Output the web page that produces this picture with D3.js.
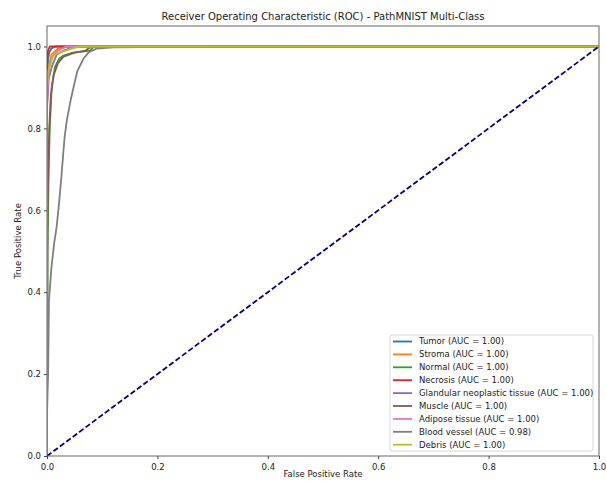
<!DOCTYPE html>
<html><head><meta charset="utf-8">
<script src="https://cdn.jsdelivr.net/npm/d3@7"></script>
<style>body{margin:0;background:#fff;} text{font-family:"DejaVu Sans",sans-serif;fill:#222;}</style>
</head><body>
<svg id="c" width="606" height="481"></svg>
<script>
const classNames = ["Tumor","Stroma","Normal","Necrosis","Glandular neoplastic tissue","Muscle","Adipose tissue","Blood vessel","Debris"];
const aucValues = [1.00,1.00,1.00,1.00,1.00,1.00,1.00,0.98,1.00];
const colors = ["#1f77b4","#ff7f0e","#2ca02c","#d62728","#9467bd","#8c564b","#e377c2","#7f7f7f","#bcbd22"];
const fprTumor = [0,0,0.002,0.004,0.008,0.015,1];
const tprTumor = [0,0.9,0.97,0.985,0.995,1,1];
const fprStroma = [0,0,0.003,0.008,0.02,0.04,1];
const tprStroma = [0,0.85,0.95,0.98,0.995,1,1];
const fprNormal = [0,0.001,0.003,0.005,0.0085,0.0145,0.022,0.03,0.047,0.06,0.078,0.085,1];
const tprNormal = [0,0.5,0.7,0.8,0.9,0.95,0.97,0.978,0.985,0.987,0.99,1,1];
const fprNecrosis = [0,0,0.002,0.005,1];
const tprNecrosis = [0,0.97,0.99,1,1];
const fprGlandular = [0,0,0.003,0.0085,0.0175,0.03,0.05,1];
const tprGlandular = [0,0.85,0.92,0.95,0.98,0.99,1,1];
const fprMuscle = [0,0.001,0.004,0.007,0.012,0.02,0.03,0.05,0.07,0.08,1];
const tprMuscle = [0,0.6,0.8,0.88,0.93,0.96,0.975,0.985,0.99,1,1];
const fprAdipose = [0,0,0.004,0.01,0.02,0.035,1];
const tprAdipose = [0,0.88,0.95,0.975,0.99,1,1];
const fprBlood = [0,0,0.001,0.002,0.0036,0.008,0.013,0.0175,0.022,0.026,0.0295,0.032,0.036,0.043,0.048,0.055,0.066,0.075,0.082,0.09,0.12,0.29,1];
const tprBlood = [0,0.1,0.16,0.2,0.38,0.46,0.52,0.56,0.62,0.68,0.74,0.78,0.82,0.87,0.9,0.94,0.97,0.985,0.99,0.995,0.998,1,1];
const fprDebris = [0,0,0.002,0.011,0.02,0.029,0.045,0.06,1];
const tprDebris = [0,0.9,0.94,0.976,0.984,0.988,0.995,1,1];
const curves = [[fprTumor,tprTumor],[fprStroma,tprStroma],[fprNormal,tprNormal],[fprNecrosis,tprNecrosis],[fprGlandular,tprGlandular],[fprMuscle,tprMuscle],[fprAdipose,tprAdipose],[fprBlood,tprBlood],[fprDebris,tprDebris]];
const ticks = [0,0.2,0.4,0.6,0.8,1.0];

const svg = d3.select("#c");
const L=47,R=599,T=26,B=456;
const x = d3.scaleLinear().domain([0,1]).range([L,R]);
const y = d3.scaleLinear().domain([0,1.05]).range([B,T]);

svg.append("defs").append("clipPath").attr("id","clip").append("rect").attr("x",L).attr("y",T).attr("width",R-L).attr("height",B-T);
const g = svg.append("g").attr("clip-path","url(#clip)");
const line = d3.line().x(d=>x(d[0])).y(d=>y(d[1]));
curves.forEach((c,i)=>{
  const pts = c[0].map((f,j)=>[f,c[1][j]]);
  g.append("path").attr("d",line(pts)).attr("fill","none").attr("stroke",colors[i]).attr("stroke-width",1.8).attr("stroke-linejoin","round");
});
g.append("path").attr("d",line([[0,0],[1,1]])).attr("fill","none").attr("stroke","navy").attr("stroke-width",1.8).attr("stroke-dasharray","5.5,2.5");

const xa = svg.append("g").attr("transform",`translate(0,${B})`).call(d3.axisBottom(x).tickValues(ticks).tickFormat(d3.format(".1f")).tickSizeOuter(0).tickSize(3));
const ya = svg.append("g").attr("transform",`translate(${L},0)`).call(d3.axisLeft(y).tickValues(ticks).tickFormat(d3.format(".1f")).tickSizeOuter(0).tickSize(3));
[xa,ya].forEach(a=>{a.select(".domain").remove();a.selectAll("text").style("font-family","DejaVu Sans").style("font-size","8.5px").attr("fill","#222");a.selectAll("line").attr("stroke","#444");});
xa.selectAll("text").attr("dy","0.9em");
svg.append("rect").attr("x",L).attr("y",T).attr("width",R-L).attr("height",B-T).attr("fill","none").attr("stroke","#555").attr("stroke-width",0.9);

svg.append("text").attr("x",(L+R)/2).attr("y",20).attr("text-anchor","middle").style("font-size","10px").text("Receiver Operating Characteristic (ROC) - PathMNIST Multi-Class");
svg.append("text").attr("x",(L+R)/2).attr("y",477).attr("text-anchor","middle").style("font-size","8.5px").text("False Positive Rate");
svg.append("text").attr("transform",`translate(21,${(T+B)/2}) rotate(-90)`).attr("text-anchor","middle").style("font-size","8.5px").text("True Positive Rate");

const lg = svg.append("g");
lg.append("rect").attr("x",390).attr("y",335).attr("width",203).attr("height",116).attr("rx",2).attr("fill","#fff").attr("fill-opacity",0.85).attr("stroke","#ccc").attr("stroke-width",0.8);
classNames.forEach((n,i)=>{
  const yy = 341.5 + i*12.9;
  lg.append("line").attr("x1",393).attr("x2",412).attr("y1",yy).attr("y2",yy).attr("stroke",colors[i]).attr("stroke-width",1.8);
  lg.append("text").attr("x",419).attr("y",yy).attr("dy","0.35em").style("font-size","8.5px").text(`${n} (AUC = ${aucValues[i].toFixed(2)})`);
});
</script>
</body></html>
